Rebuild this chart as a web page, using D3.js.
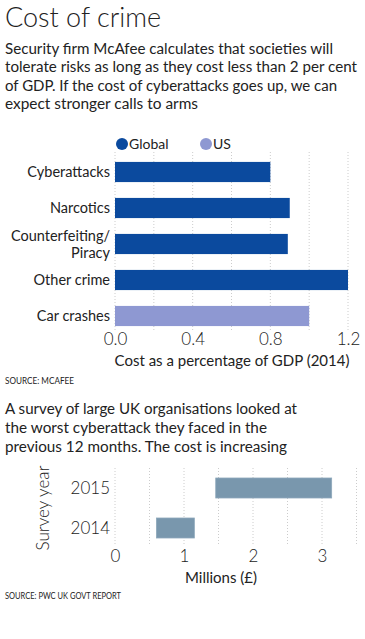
<!DOCTYPE html>
<html><head><meta charset="utf-8">
<script src="https://cdn.jsdelivr.net/npm/d3@7"></script>
<style>
body{margin:0;background:#fff;}
svg{display:block;font-family:Lato,"Noto Sans",sans-serif;}
</style></head>
<body><svg id="c" width="365" height="639"></svg>
<script>
const categories = ["Cyberattacks","Narcotics","Counterfeiting/\nPiracy","Other crime","Car crashes"];
const gdpValues = [0.8, 0.9, 0.89, 1.2, 1.0];
const gdpSeries = ["Global","Global","Global","Global","US"];
const legendItems = ["Global","US"];
const gdpTicks = [0.0, 0.4, 0.8, 1.2];
const surveyYears = ["2015","2014"];
const surveyLow = [1.46, 0.6];
const surveyHigh = [3.14, 1.15];
const surveyTicks = [0,1,2,3];

const colors = {Global:"#0b4a9e", US:"#8e98d2"};
const svg = d3.select("#c");
const txt = "#222";

// Title & subtitle
svg.append("text").attr("x",5).attr("y",27).attr("font-size",27).attr("font-weight",300).attr("fill",txt).text("Cost of crime");
const sub1 = ["Security firm McAfee calculates that societies will","tolerate risks as long as they cost less than 2 per cent","of GDP. If the cost of cyberattacks goes up, we can","expect stronger calls to arms"];
const sub1W = [328,352,332,193];
sub1.forEach((s,i)=>svg.append("text").attr("x",5).attr("y",54+i*18.3).attr("font-size",15.5).attr("fill",txt)
  .attr("textLength",sub1W[i]).attr("lengthAdjust","spacingAndGlyphs").text(s));

// Chart 1
const x1 = d3.scaleLinear().domain([0,1.2]).range([115,348]);
const y1 = d3.scaleBand().domain(categories).range([154,334]).paddingInner(0.44).paddingOuter(0.22);
const grid1 = d3.range(0,1.21,0.2);
svg.append("g").selectAll("line").data(grid1).join("line")
  .attr("x1",d=>x1(d)).attr("x2",d=>x1(d)).attr("y1",152).attr("y2",330)
  .attr("stroke","#ccc").attr("stroke-dasharray","1,2").attr("stroke-width",1);
svg.append("g").selectAll("rect").data(categories).join("rect")
  .attr("x",x1(0)).attr("y",d=>y1(d)).attr("height",y1.bandwidth())
  .attr("width",(d,i)=>x1(gdpValues[i])-x1(0)).attr("fill",(d,i)=>colors[gdpSeries[i]]);
const cl = svg.append("g").selectAll("text").data(categories).join("text")
  .attr("x",110).attr("text-anchor","end").attr("font-size",14.5).attr("fill",txt);
cl.each(function(d){
  const lines = d.split("\n"); const el = d3.select(this);
  const cy = y1(d)+y1.bandwidth()/2;
  lines.forEach((l,j)=>el.append("tspan").attr("x",110).attr("y",cy+5+(j-(lines.length-1)/2)*17).text(l));
});
// legend
const lg = svg.append("g");
legendItems.forEach((k,i)=>{
  const lx = 120 + i*84;
  lg.append("circle").attr("cx",lx+2).attr("cy",144).attr("r",6).attr("fill",colors[k]);
  lg.append("text").attr("x",lx+9).attr("y",149).attr("font-size",14).attr("fill",txt).text(k);
});
// axis
const ax1 = svg.append("g").attr("transform","translate(0,326)")
  .call(d3.axisBottom(x1).tickValues(gdpTicks).tickFormat(d3.format(".1f")).tickSize(0).tickPadding(7));
ax1.select(".domain").remove();
ax1.selectAll("text").attr("font-size",17).attr("fill",txt).attr("font-family","Lato,'Noto Sans',sans-serif").attr("font-weight",300);
svg.append("text").attr("x",232).attr("y",366).attr("text-anchor","middle").attr("font-size",15).attr("fill",txt).text("Cost as a percentage of GDP (2014)");
svg.append("text").attr("x",5).attr("y",384).attr("font-size",8.5).attr("fill",txt).attr("textLength",69).attr("lengthAdjust","spacingAndGlyphs").text("SOURCE: MCAFEE");

// Subtitle 2
const sub2 = ["A survey of large UK organisations looked at","the worst cyberattack they faced in the","previous 12 months. The cost is increasing"];
const sub2W = [292,262,282];
sub2.forEach((s,i)=>svg.append("text").attr("x",5).attr("y",414+i*19).attr("font-size",15.5).attr("fill",txt)
  .attr("textLength",sub2W[i]).attr("lengthAdjust","spacingAndGlyphs").text(s));

// Chart 2
const x2 = d3.scaleLinear().domain([0,3.5]).range([115,356.5]);
const y2 = d3.scaleBand().domain(surveyYears).range([470,546]).paddingInner(0.5).paddingOuter(0.2);
svg.append("g").selectAll("line").data(d3.range(0,3.51,0.5)).join("line")
  .attr("x1",d=>x2(d)).attr("x2",d=>x2(d)).attr("y1",468).attr("y2",546)
  .attr("stroke","#ccc").attr("stroke-dasharray","1,2");
svg.append("g").selectAll("rect").data(surveyYears).join("rect")
  .attr("x",(d,i)=>x2(surveyLow[i])).attr("width",(d,i)=>x2(surveyHigh[i])-x2(surveyLow[i]))
  .attr("y",d=>y2(d)).attr("height",y2.bandwidth()).attr("fill","#7997ad").attr("stroke","#8ea8bb").attr("stroke-width",0.8);
svg.append("g").selectAll("text").data(surveyYears).join("text")
  .attr("x",110).attr("y",d=>y2(d)+y2.bandwidth()/2+6).attr("text-anchor","end").attr("font-size",17).attr("font-weight",300).attr("fill",txt).text(d=>d);
const ax2 = svg.append("g").attr("transform","translate(0,546)")
  .call(d3.axisBottom(x2).tickValues(surveyTicks).tickFormat(d3.format("d")).tickSize(0).tickPadding(4));
ax2.select(".domain").remove();
ax2.selectAll("text").attr("font-size",17).attr("fill",txt).attr("font-family","Lato,'Noto Sans',sans-serif").attr("font-weight",300);
svg.append("text").attr("x",221).attr("y",583).attr("text-anchor","middle").attr("font-size",15).attr("fill",txt).text("Millions (£)");
svg.append("text").attr("transform","translate(49,508) rotate(-90)").attr("text-anchor","middle").attr("font-size",17).attr("font-weight",300).attr("fill",txt).text("Survey year");
svg.append("text").attr("x",5).attr("y",599).attr("font-size",8.5).attr("fill",txt).attr("textLength",116).attr("lengthAdjust","spacingAndGlyphs").text("SOURCE: PWC UK GOVT REPORT");
</script></body></html>
